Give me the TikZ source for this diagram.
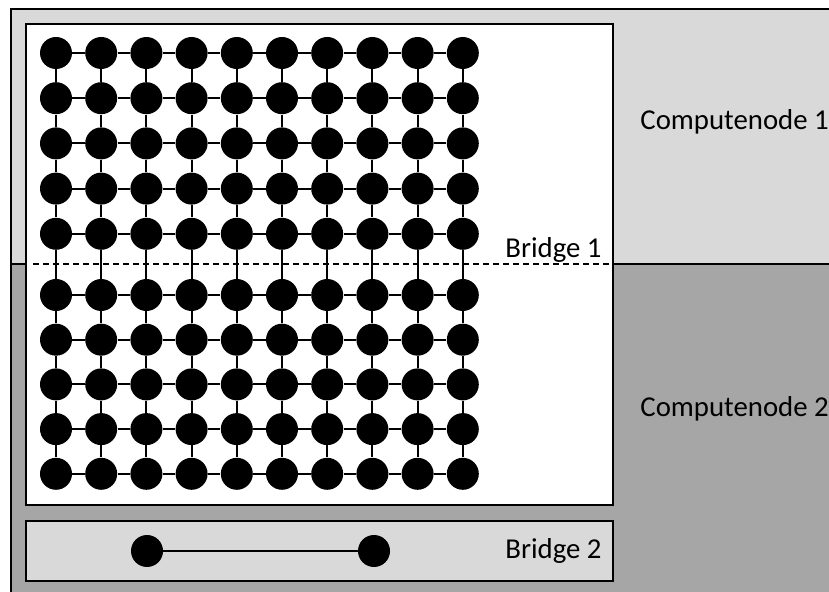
\documentclass[tikz,border=0pt]{standalone}
\usepackage{fontspec}
\setmainfont{Carlito}
\usepackage{tikz}
\definecolor{cnlight}{HTML}{D9D9D9}
\definecolor{cndark}{HTML}{A6A6A6}

\begin{document}
\begin{tikzpicture}[
  x=0.5pt, y=-0.5pt,
  font=\fontsize{14.4}{17}\selectfont,
  frame/.style={draw=black, line width=1pt},
  proc/.style={circle, fill=black, inner sep=0pt, minimum size=16pt},
  link/.style={line width=1pt, draw=black},
  bridgeline/.style={line width=1pt, draw=black, dash pattern=on 3pt off 2pt},
  lbl/.style={inner sep=0pt, text=black},
]
\useasboundingbox (0,0) rectangle (829,592);
% ----- compute nodes -----
\fill[cnlight] (11,9) rectangle (840,264);
\fill[cndark] (11,264) rectangle (840,600);
\draw[frame] (840,9) -- (11,9) -- (11,600);
\draw[frame] (11,264) -- (840,264);
\node[lbl, anchor=base west] (cn1) at (640,130) {Computenode 1};
\node[lbl, anchor=base west] (cn2) at (640,417) {Computenode 2};
% ----- mesh -----
\draw[frame, fill=white] (26,24) rectangle (613,505);
\foreach \i in {1,...,10} {
  \pgfmathsetmacro{\ypos}{\i<6 ? 53+45.2*(\i-1) : 295+44.7*(\i-6)}
  \foreach \j in {1,...,10} {
    \node[proc] (c-\i-\j) at ({56+45.2*(\j-1)},\ypos) {};
  }
}
\foreach \i in {1,...,10}
  \foreach \j [count=\k from 2] in {1,...,9}
    \draw[link] (c-\i-\j) -- (c-\i-\k);
\foreach \j in {1,...,10}
  \foreach \i [count=\k from 2] in {1,...,9}
    \draw[link] (c-\i-\j) -- (c-\k-\j);
% ----- bridge 1 -----
\coordinate (b1w) at (33,264);
\coordinate (b1e) at (613,264);
\draw[bridgeline] (b1w) -- (b1e);
\node[lbl, anchor=base east] (br1) at (602,258) {Bridge 1};
% ----- bridge 2 -----
\draw[frame, fill=cnlight] (26,521) rectangle (613,581);
\node[proc] (b2a) at (147,551) {};
\node[proc] (b2b) at (374,551) {};
\draw[link] (b2a) -- (b2b);
\node[lbl, anchor=base east] (br2) at (602,558) {Bridge 2};
\end{tikzpicture}
\end{document}
